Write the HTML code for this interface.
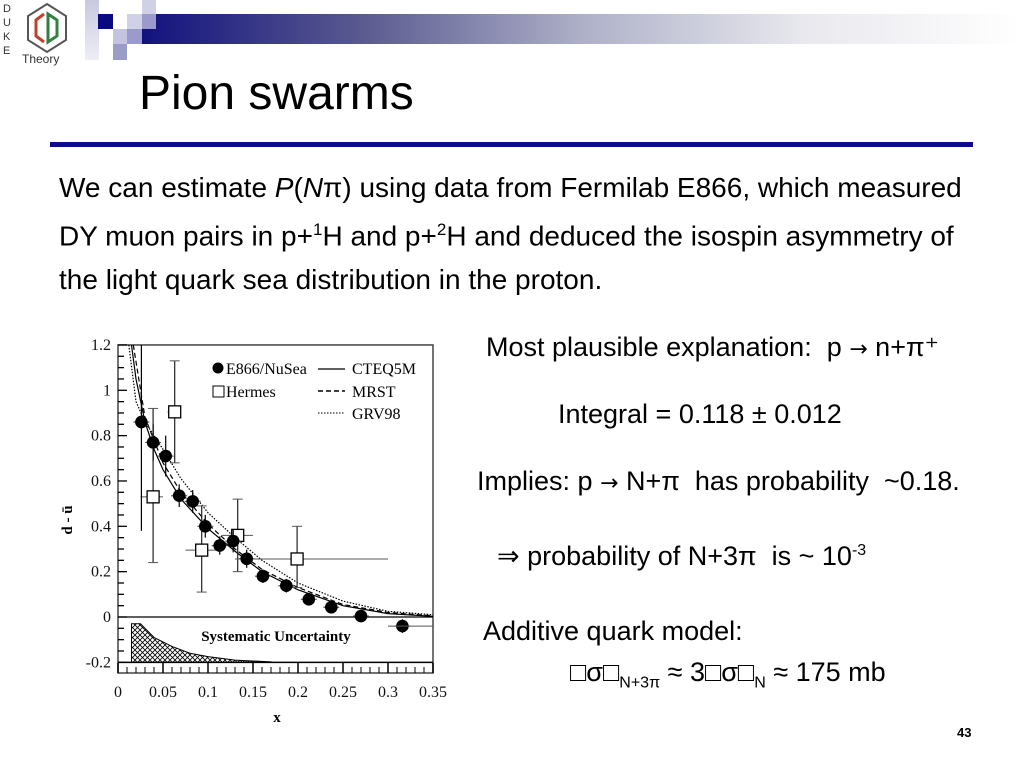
<!DOCTYPE html>
<html><head><meta charset="utf-8">
<style>
html,body{margin:0;padding:0;background:#fff;}
body{width:1024px;height:768px;position:relative;overflow:hidden;font-family:"Liberation Sans",sans-serif;color:#000;}
.abs{position:absolute;}
.t{position:absolute;font-size:28px;white-space:nowrap;line-height:1;}
.r{font-size:27px;}
.ar{font-family:"DejaVu Sans",sans-serif;font-size:22px;}
</style></head>
<body>
<div class="abs" style="left:142px;top:14px;width:880px;height:30px;background:linear-gradient(to right,#12127e 0%,#5a5a90 25%,#aeb0c8 50%,#e8e8ee 75%,#ffffff 100%);"></div>
<div class="abs" style="left:85px;top:0;width:14px;height:60px;background:linear-gradient(#c8c8e0,#eeeef6);"></div>
<div class="abs" style="left:98px;top:14px;width:15px;height:15px;background:#0a0a80;"></div>
<div class="abs" style="left:113px;top:29px;width:14px;height:15px;background:#c4c4e0;"></div>
<div class="abs" style="left:113px;top:44px;width:14px;height:16px;background:#9c9cc8;"></div>
<div class="abs" style="left:127px;top:14px;width:15px;height:15px;background:#d0d0e6;"></div>
<div class="abs" style="left:127px;top:29px;width:15px;height:15px;background:#9a9acc;"></div>
<div class="abs" style="left:142px;top:0;width:14px;height:14px;background:#d0d0e6;"></div>
<div class="abs" style="left:142px;top:14px;width:14px;height:15px;background:#9a9acc;"></div>
<svg class="abs" style="left:0;top:0" width="80" height="66">
<text x="3" y="12" font-size="11" fill="#333" font-family="Liberation Sans">D</text>
<text x="3" y="26" font-size="11" fill="#333" font-family="Liberation Sans">U</text>
<text x="3" y="40" font-size="11" fill="#333" font-family="Liberation Sans">K</text>
<text x="3" y="54" font-size="11" fill="#333" font-family="Liberation Sans">E</text>
<polygon points="47,4 66,16 66,40 47,52 28,40 28,16" fill="none" stroke="#555" stroke-width="2"/>
<path d="M44,14 L36,20 L36,36 L44,42" fill="none" stroke="#c04030" stroke-width="3"/>
<path d="M48,14 L57,20 L57,36 L48,42 Z" fill="none" stroke="#308040" stroke-width="3"/>
<text x="22" y="63" font-size="12" fill="#333" font-family="Liberation Sans">Theory</text>
</svg>
<div class="t" style="left:139px;top:70px;font-size:48px;">Pion swarms</div>
<div class="abs" style="left:50px;top:142px;width:923px;height:5px;background:#0c0c84;"></div>
<div class="t" style="left:59px;top:174px;">We can estimate <i>P</i>(<i>N</i>π) using data from Fermilab E866, which measured</div>
<div class="t" style="left:59px;top:221px;">DY muon pairs in p+<sup style="font-size:17px">1</sup>H and p+<sup style="font-size:17px">2</sup>H and deduced the isospin asymmetry of</div>
<div class="t" style="left:59px;top:266px;">the light quark sea distribution in the proton.</div>
<div class="t r" style="left:486px;top:334px;">Most plausible explanation:&nbsp; p <span class="ar">→</span> n+π⁺</div>
<div class="t r" style="left:558px;top:401px;">Integral = 0.118 ± 0.012</div>
<div class="t r" style="left:477px;top:468px;">Implies: p <span class="ar">→</span> N+π&nbsp; has probability&nbsp; ~0.18.</div>
<div class="t r" style="left:497px;top:543px;">⇒ probability of N+3π&nbsp; is ~ 10<sup style="font-size:16px">-3</sup></div>
<div class="t r" style="left:483px;top:618px;">Additive quark model:</div>
<div class="t r" style="left:570px;top:659px;">□σ□<sub style="font-size:16px">N+3π</sub> ≈ 3□σ□<sub style="font-size:16px">N</sub> ≈ 175 mb</div>
<div class="t" style="left:957px;top:726px;font-size:13px;font-weight:bold;">43</div>

<svg id="chart" class="abs" style="left:0;top:0" width="1024" height="768"></svg>
<script>
const e866X=[0.026,0.039,0.053,0.068,0.083,0.097,0.113,0.128,0.143,0.161,0.187,0.212,0.237,0.27,0.316];
const e866Y=[0.86,0.77,0.71,0.535,0.51,0.40,0.315,0.335,0.257,0.18,0.138,0.078,0.043,0.004,-0.04];
const e866Err=[0.48,0.08,0.09,0.05,0.05,0.05,0.04,0.05,0.04,0.03,0.03,0.02,0.02,0.02,0.03];
const hermesX=[0.039,0.063,0.093,0.133,0.199];
const hermesY=[0.53,0.905,0.295,0.36,0.256];
const hermesHi=[0.92,1.13,0.49,0.52,0.40];
const hermesLo=[0.24,0.68,0.11,0.20,0.13];
const hermesXLo=[0.025,0.055,0.075,0.115,0.13];
const hermesXHi=[0.05,0.07,0.11,0.15,0.3];
const cteqX=[0.015,0.02,0.03,0.04,0.05,0.07,0.1,0.13,0.16,0.2,0.25,0.3,0.35];
const cteqY=[1.2,1.05,0.86,0.74,0.65,0.52,0.39,0.29,0.2,0.12,0.05,0.015,0.003];
const mrstX=[0.017,0.03,0.05,0.07,0.1,0.13,0.16,0.2,0.25,0.3,0.35];
const mrstY=[1.2,0.88,0.68,0.55,0.41,0.3,0.21,0.13,0.055,0.02,0.005];
const grvX=[0.012,0.02,0.03,0.05,0.07,0.1,0.13,0.16,0.2,0.25,0.3,0.35];
const grvY=[1.2,0.95,0.86,0.74,0.61,0.46,0.35,0.25,0.15,0.07,0.025,0.01];
const sysX=[0.015,0.025,0.04,0.06,0.08,0.1,0.13,0.17];
const sysY=[-0.03,-0.03,-0.09,-0.13,-0.16,-0.175,-0.19,-0.198];
const xTicks=[0,0.05,0.1,0.15,0.2,0.25,0.3,0.35];
const xTickLabels=["0","0.05","0.1","0.15","0.2","0.25","0.3","0.35"];
const yTicks=[-0.2,0,0.2,0.4,0.6,0.8,1,1.2];
const yTickLabels=["-0.2","0","0.2","0.4","0.6","0.8","1","1.2"];

const NS="http://www.w3.org/2000/svg";
const svg=document.getElementById('chart');
const X0=118,X1=433,Y0=617,PY=226.7;
const SERIF='Liberation Serif';
function sx(v){return X0+(v/0.35)*(X1-X0);}
function sy(v){return Y0-v*PY;}
function mk(tag,attrs,parent){const e=document.createElementNS(NS,tag);for(const k in attrs)e.setAttribute(k,attrs[k]);(parent||svg).appendChild(e);return e;}

const defs=mk('defs',{});
const pat=mk('pattern',{id:'hatch',width:5,height:5,patternUnits:'userSpaceOnUse'},defs);
mk('path',{d:'M0,0 L5,5 M5,0 L0,5',stroke:'#000','stroke-width':0.8},pat);

const frame=mk('rect',{x:X0,y:sy(1.2),width:X1-X0,height:673-sy(1.2),fill:'none',stroke:'#444','stroke-width':1.5});


const zl=mk('line',{x1:X0,x2:X1,y1:sy(0),y2:sy(0),stroke:'#000','stroke-width':1.2});


mk('line',{x1:X0,x2:X1,y1:sy(-0.2),y2:sy(-0.2),stroke:'#000','stroke-width':1.5});

for(let i=0;i<yTicks.length;i++){
  const t=mk('text',{x:X0-7,y:sy(yTicks[i])+5,'text-anchor':'end','font-size':16,'font-family':SERIF,fill:'#111'});
  t.textContent=yTickLabels[i];
  
  
}
for(let k=0;k<=28;k++){const v=-0.2+k*0.05;mk('line',{x1:X0,x2:X0+(k%4===0?9:6),y1:sy(v),y2:sy(v),stroke:'#000','stroke-width':1.3});}
for(let i=0;i<xTicks.length;i++){
  const t=mk('text',{x:sx(xTicks[i]),y:697,'text-anchor':'middle','font-size':16,'font-family':SERIF,fill:'#111'});
  t.textContent=xTickLabels[i];
  
  
  mk('line',{x1:sx(xTicks[i]),x2:sx(xTicks[i]),y1:673,y2:663,stroke:'#000','stroke-width':1.5});
}
for(let k=0;k<=35;k++){mk('line',{x1:sx(k*0.01),x2:sx(k*0.01),y1:673,y2:667,stroke:'#000'});}

const yl=mk('text',{x:72,y:520,'text-anchor':'middle','font-size':15,'font-family':SERIF,'font-weight':'bold',transform:'rotate(-90 72 520)'});
yl.textContent='d - ū';


const xl=mk('text',{x:277,y:722,'text-anchor':'middle','font-size':15,'font-family':SERIF,'font-weight':'bold'});
xl.textContent='x';



let sd='M'+sx(sysX[0])+','+sy(-0.2);
for(let i=0;i<sysX.length;i++)sd+=' L'+sx(sysX[i])+','+sy(sysY[i]);
sd+=' L'+sx(sysX[sysX.length-1])+','+sy(-0.2)+' Z';
const sb=mk('path',{d:sd,fill:'url(#hatch)',stroke:'#000','stroke-width':1});


const st=mk('text',{x:276,y:641,'text-anchor':'middle','font-size':15,'font-family':SERIF,'font-weight':'bold'});
st.textContent='Systematic Uncertainty';



const cp=mk('clipPath',{id:'clip'},defs);
mk('rect',{x:X0,y:sy(1.2),width:X1-X0,height:sy(-0.2)-sy(1.2)},cp);
function curve(xs,ys,dash,name){
  let d='';for(let i=0;i<xs.length;i++)d+=(i?' L':'M')+sx(xs[i])+','+sy(ys[i]);
  const p=mk('path',{d:d,fill:'none',stroke:'#000','stroke-width':1.2,'stroke-dasharray':dash,'clip-path':'url(#clip)'});
  
  
}
curve(cteqX,cteqY,'none','cteq5m-curve');
curve(mrstX,mrstY,'5,3','mrst-curve');
curve(grvX,grvY,'1.5,1.5','grv98-curve');

for(let i=0;i<hermesX.length;i++){
  const x=sx(hermesX[i]),y=sy(hermesY[i]);
  mk('line',{x1:x,x2:x,y1:sy(hermesHi[i]),y2:sy(hermesLo[i]),stroke:'#222','stroke-width':1.2});
  mk('line',{x1:sx(hermesXLo[i]),x2:sx(hermesXHi[i]),y1:y,y2:y,stroke:'#555','stroke-width':1});
  mk('line',{x1:x-5,x2:x+5,y1:sy(hermesHi[i]),y2:sy(hermesHi[i]),stroke:'#555'});
  mk('line',{x1:x-5,x2:x+5,y1:sy(hermesLo[i]),y2:sy(hermesLo[i]),stroke:'#555'});
  const r=mk('rect',{x:x-6,y:y-6,width:12,height:12,fill:'#fff',stroke:'#000','stroke-width':1.3});
  
  
}
for(let i=0;i<e866X.length;i++){
  const x=sx(e866X[i]),y=sy(e866Y[i]);
  mk('line',{x1:x,x2:x,y1:Math.max(sy(1.2),sy(e866Y[i]+e866Err[i])),y2:sy(e866Y[i]-e866Err[i]),stroke:'#000','stroke-width':1.2});
  mk('line',{x1:x-8,x2:x+8,y1:y,y2:y,stroke:'#555','stroke-width':1.2});
  const c=mk('circle',{cx:x,cy:y,r:6.3,fill:'#000'});
  
  
}
mk('line',{x1:sx(0.3),x2:X1,y1:sy(-0.04),y2:sy(-0.04),stroke:'#555'});

const lg=mk('g',{});


mk('circle',{cx:218,cy:368,r:5.5,fill:'#000'},lg);
let lt=mk('text',{x:226,y:374,'font-size':16,'font-family':SERIF},lg);lt.textContent='E866/NuSea';
mk('rect',{x:213,y:386,width:11,height:11,fill:'#fff',stroke:'#000'},lg);
lt=mk('text',{x:226,y:397,'font-size':16,'font-family':SERIF},lg);lt.textContent='Hermes';
mk('line',{x1:318,x2:345,y1:369,y2:369,stroke:'#000','stroke-width':1.2},lg);
mk('line',{x1:318,x2:345,y1:391,y2:391,stroke:'#000','stroke-dasharray':'5,3','stroke-width':1.5},lg);
mk('line',{x1:318,x2:345,y1:413,y2:413,stroke:'#000','stroke-dasharray':'1.5,1.5'},lg);
lt=mk('text',{x:352,y:374,'font-size':16,'font-family':SERIF},lg);lt.textContent='CTEQ5M';
lt=mk('text',{x:352,y:397,'font-size':16,'font-family':SERIF},lg);lt.textContent='MRST';
lt=mk('text',{x:352,y:419,'font-size':16,'font-family':SERIF},lg);lt.textContent='GRV98';
</script>
</body></html>
